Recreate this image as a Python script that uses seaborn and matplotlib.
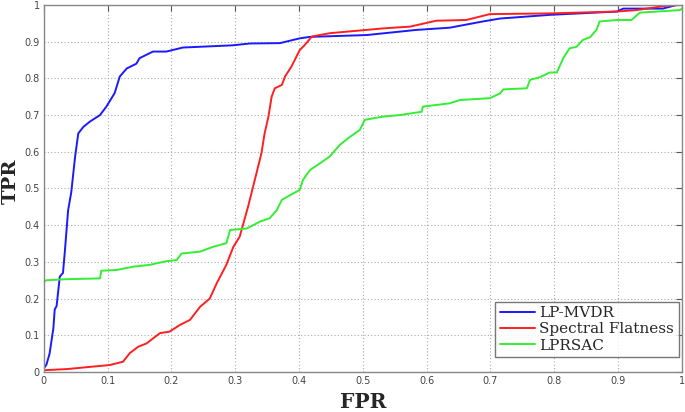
import matplotlib
matplotlib.use("Agg")
import matplotlib.pyplot as plt
import seaborn as sns
import pandas as pd
from matplotlib.lines import Line2D

# ---- data ----
mvdr_fpr = [0.0, 0.004, 0.009, 0.015, 0.017, 0.020, 0.025, 0.030, 0.033, 0.038, 0.043, 0.049,
            0.054, 0.062, 0.072, 0.088, 0.098, 0.111, 0.119, 0.130, 0.145, 0.150, 0.171, 0.192,
            0.218, 0.296, 0.323, 0.370, 0.401, 0.417, 0.506, 0.584, 0.636, 0.688, 0.715, 0.793,
            0.898, 0.908, 0.970, 0.992, 1.0]
mvdr_tpr = [0.01, 0.02, 0.05, 0.12, 0.17, 0.18, 0.26, 0.27, 0.33, 0.44, 0.49, 0.587,
            0.65, 0.668, 0.682, 0.70, 0.723, 0.76, 0.805, 0.827, 0.84, 0.855, 0.873, 0.873,
            0.884, 0.89, 0.895, 0.896, 0.909, 0.913, 0.918, 0.932, 0.938, 0.955, 0.963, 0.973,
            0.982, 0.99, 0.99, 1.0, 1.0]

sf_fpr = [0.0, 0.036, 0.072, 0.103, 0.124, 0.135, 0.148, 0.161, 0.182, 0.197, 0.213, 0.229,
          0.245, 0.260, 0.271, 0.286, 0.297, 0.307, 0.320, 0.333, 0.341, 0.346, 0.352, 0.357,
          0.362, 0.373, 0.378, 0.388, 0.401, 0.409, 0.420, 0.448, 0.531, 0.574, 0.615, 0.662,
          0.699, 0.793, 0.898, 0.929, 0.976, 1.0]
sf_tpr = [0.005, 0.008, 0.014, 0.019, 0.028, 0.052, 0.069, 0.078, 0.106, 0.11, 0.128, 0.142,
          0.178, 0.20, 0.242, 0.292, 0.341, 0.369, 0.45, 0.54, 0.596, 0.65, 0.696, 0.75,
          0.773, 0.782, 0.805, 0.832, 0.877, 0.891, 0.914, 0.923, 0.936, 0.941, 0.957, 0.959,
          0.975, 0.977, 0.982, 0.986, 0.998, 1.0]

lprsac_fpr = [0.0, 0.004, 0.036, 0.088, 0.090, 0.114, 0.140, 0.166, 0.192, 0.208, 0.216, 0.245,
              0.265, 0.286, 0.292, 0.318, 0.339, 0.354, 0.365, 0.373, 0.386, 0.401, 0.406, 0.417,
              0.433, 0.448, 0.464, 0.480, 0.495, 0.503, 0.532, 0.558, 0.592, 0.594, 0.636, 0.652,
              0.699, 0.715, 0.720, 0.757, 0.762, 0.777, 0.793, 0.804, 0.814, 0.824, 0.835, 0.845,
              0.856, 0.866, 0.871, 0.898, 0.921, 0.934, 0.997, 1.0]
lprsac_tpr = [0.246, 0.25, 0.253, 0.255, 0.276, 0.278, 0.287, 0.292, 0.302, 0.305, 0.323, 0.328,
              0.341, 0.351, 0.387, 0.391, 0.41, 0.419, 0.441, 0.469, 0.482, 0.496, 0.523, 0.55,
              0.569, 0.587, 0.619, 0.641, 0.659, 0.687, 0.696, 0.70, 0.709, 0.723, 0.732, 0.741,
              0.746, 0.759, 0.77, 0.773, 0.796, 0.803, 0.816, 0.816, 0.855, 0.882, 0.886, 0.905,
              0.912, 0.932, 0.955, 0.959, 0.959, 0.979, 0.986, 0.99]

series_names = ["LP-MVDR", "Spectral Flatness", "LPRSAC"]
series_colors = ["#1a1aff", "#ff1f1f", "#33ee33"]
tick_values = [0, 0.1, 0.2, 0.3, 0.4, 0.5, 0.6, 0.7, 0.8, 0.9, 1]
tick_labels = ["0", "0.1", "0.2", "0.3", "0.4", "0.5", "0.6", "0.7", "0.8", "0.9", "1"]

frames = []
for name, xs, ys in zip(series_names, [mvdr_fpr, sf_fpr, lprsac_fpr],
                        [mvdr_tpr, sf_tpr, lprsac_tpr]):
    frames.append(pd.DataFrame({"FPR": xs, "TPR": ys, "method": name}))
df = pd.concat(frames, ignore_index=True)

sns.set_theme(style="white")
plt.rcParams["font.family"] = ["DejaVu Sans"]

fig = plt.figure(figsize=(6.85, 4.12), dpi=100)
ax = fig.add_axes([0.064, 0.097, 0.9315, 0.891])

sns.lineplot(data=df, x="FPR", y="TPR", hue="method", hue_order=series_names,
             palette=series_colors, sort=False, estimator=None, units="method",
             linewidth=1.4, ax=ax, legend=False)

ax.set_xlim(0, 1)
ax.set_ylim(0, 1)
ax.set_xticks(tick_values)
ax.set_xticklabels(tick_labels)
ax.set_yticks(tick_values)
ax.set_yticklabels(tick_labels)
ax.tick_params(axis="both", direction="in", length=4, width=0.8, colors="#555555",
               labelsize=7, labelcolor="#444444", top=True, right=True, pad=3)
ax.grid(True, linestyle=(0, (1, 2)), color="#aaaaaa", linewidth=0.8)
for s in ax.spines.values():
    s.set_color("#888888")
    s.set_linewidth(1.0)

ax.set_xlabel("FPR", fontsize=14.5, fontweight="bold", family="DejaVu Serif", labelpad=4)
ax.set_ylabel("TPR", fontsize=14, fontweight="bold", family="DejaVu Serif")
ax.yaxis.set_label_coords(-0.037, 0.52)

handles = [Line2D([0], [0], color=c, lw=1.4) for c in series_colors]
leg = ax.legend(handles, series_names, loc="lower right", bbox_to_anchor=(0.995, 0.04),
                prop={"family": "DejaVu Serif", "size": 11}, frameon=True, fancybox=False,
                handlelength=2.3, handletextpad=0.3, borderpad=0.3, labelspacing=0.15,
                borderaxespad=0.0)
leg.get_frame().set_edgecolor("#555555")
leg.get_frame().set_linewidth(1.0)

fig.savefig("out.png", dpi=100)
